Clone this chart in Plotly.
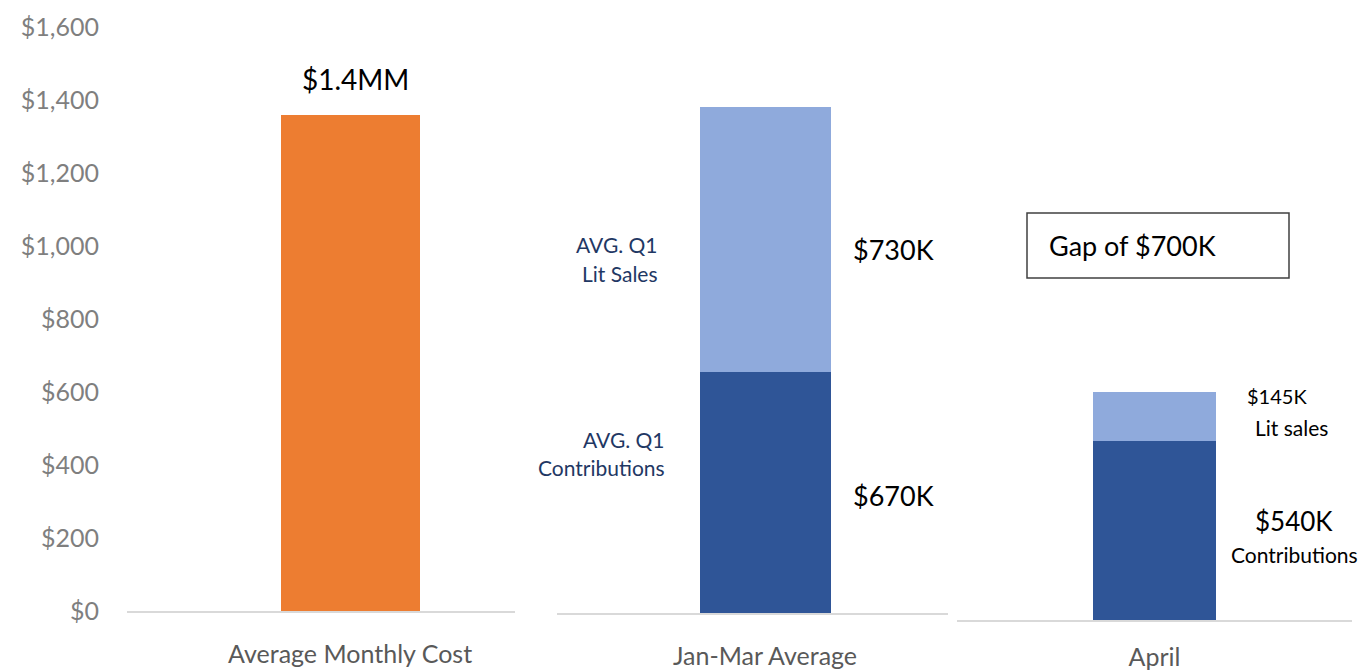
import plotly.graph_objects as go

W, H = 1364, 670

# ---- data ----
cost_category = ["Average Monthly Cost"]
cost_values = [1358]
q1_category = ["Jan-Mar Average"]
q1_contributions = [659]
q1_lit_sales = [727]
april_category = ["April"]
april_contributions = [491]
april_lit_sales = [135]
y_ticks = [0, 200, 400, 600, 800, 1000, 1200, 1400, 1600]
y_tick_text = ["$" + format(v, ",") for v in y_ticks]

ORANGE = "#ED7D31"
DARK = "#2F5597"
LIGHT = "#8FAADC"
NAVY = "#1F3864"
FONT = "Lato"


def fx(px):
    return px / W


def fy(py):
    return 1 - py / H


fig = go.Figure()
fig.add_trace(go.Bar(x=cost_category, y=cost_values, marker_color=ORANGE,
                     width=0.358, xaxis="x", yaxis="y", marker_line_width=0))
fig.add_trace(go.Bar(x=q1_category, y=q1_contributions, marker_color=DARK,
                     width=0.335, xaxis="x2", yaxis="y2", marker_line_width=0))
fig.add_trace(go.Bar(x=q1_category, y=q1_lit_sales, marker_color=LIGHT,
                     width=0.335, xaxis="x2", yaxis="y2", marker_line_width=0))
fig.add_trace(go.Bar(x=april_category, y=april_contributions, marker_color=DARK,
                     width=0.311, xaxis="x3", yaxis="y3", marker_line_width=0))
fig.add_trace(go.Bar(x=april_category, y=april_lit_sales, marker_color=LIGHT,
                     width=0.311, xaxis="x3", yaxis="y3", marker_line_width=0))

xcommon = dict(showgrid=False, zeroline=False, showline=True, linecolor="#D9D9D9",
               linewidth=2, ticks="", tickfont=dict(family=FONT, size=25, color="#595959"),
               fixedrange=True, automargin=False)
ycommon = dict(range=[0, 1600], showgrid=False, zeroline=False, showline=False,
               fixedrange=True, automargin=False)

fig.update_layout(
    width=W, height=H, margin=dict(l=0, r=0, t=0, b=0),
    paper_bgcolor="white", plot_bgcolor="white",
    barmode="stack", showlegend=False,
    xaxis=dict(domain=[fx(127), fx(515)], range=[-0.575, 0.425], anchor="y",
               ticklabelstandoff=20, **xcommon),
    xaxis2=dict(domain=[fx(557), fx(948)], range=[-0.532, 0.468], anchor="y2",
                ticklabelstandoff=20, **xcommon),
    xaxis3=dict(domain=[fx(957), fx(1352)], range=[-0.5, 0.5], anchor="y3",
                ticklabelstandoff=14, **xcommon),
    yaxis=dict(domain=[fy(611), fy(27)], anchor="x", tickmode="array", tickvals=y_ticks,
               ticktext=y_tick_text, ticklabelstandoff=27,
               tickfont=dict(family=FONT, size=25, color="#7F7F7F"), **ycommon),
    yaxis2=dict(domain=[fy(613), fy(29)], anchor="x2", showticklabels=False, **ycommon),
    yaxis3=dict(domain=[fy(620), fy(36)], anchor="x3", showticklabels=False, **ycommon),
)


def ann(text, x, y, size, color="black", xanchor="center"):
    fig.add_annotation(text=text, x=fx(x), y=fy(y), xref="paper", yref="paper",
                       showarrow=False, xanchor=xanchor, yanchor="middle",
                       font=dict(family=FONT, size=size, color=color))


ann("$1.4MM", 355, 79, 28)
ann("$730K", 893, 249, 27)
ann("$670K", 893, 495, 27)
ann("AVG. Q1", 660, 244, 21, NAVY, "right")
ann("Lit Sales", 660, 273, 21, NAVY, "right")
ann("AVG. Q1", 667, 439, 21, NAVY, "right")
ann("Contributions", 667, 467, 21, NAVY, "right")
ann("$145K", 1277, 396, 20)
ann("Lit sales", 1291, 427, 21)
ann("$540K", 1294, 521, 26)
ann("Contributions", 1294, 554, 21)

fig.add_shape(type="rect", xref="paper", yref="paper",
              x0=fx(1027), x1=fx(1289), y0=fy(278), y1=fy(213),
              line=dict(color="#404040", width=1.5), fillcolor="white")
ann("Gap of $700K", 1047, 245, 27, "black", "left")

fig.write_html("out.html", config={"displayModeBar": False},
               post_script="document.body.style.margin='0px';")
